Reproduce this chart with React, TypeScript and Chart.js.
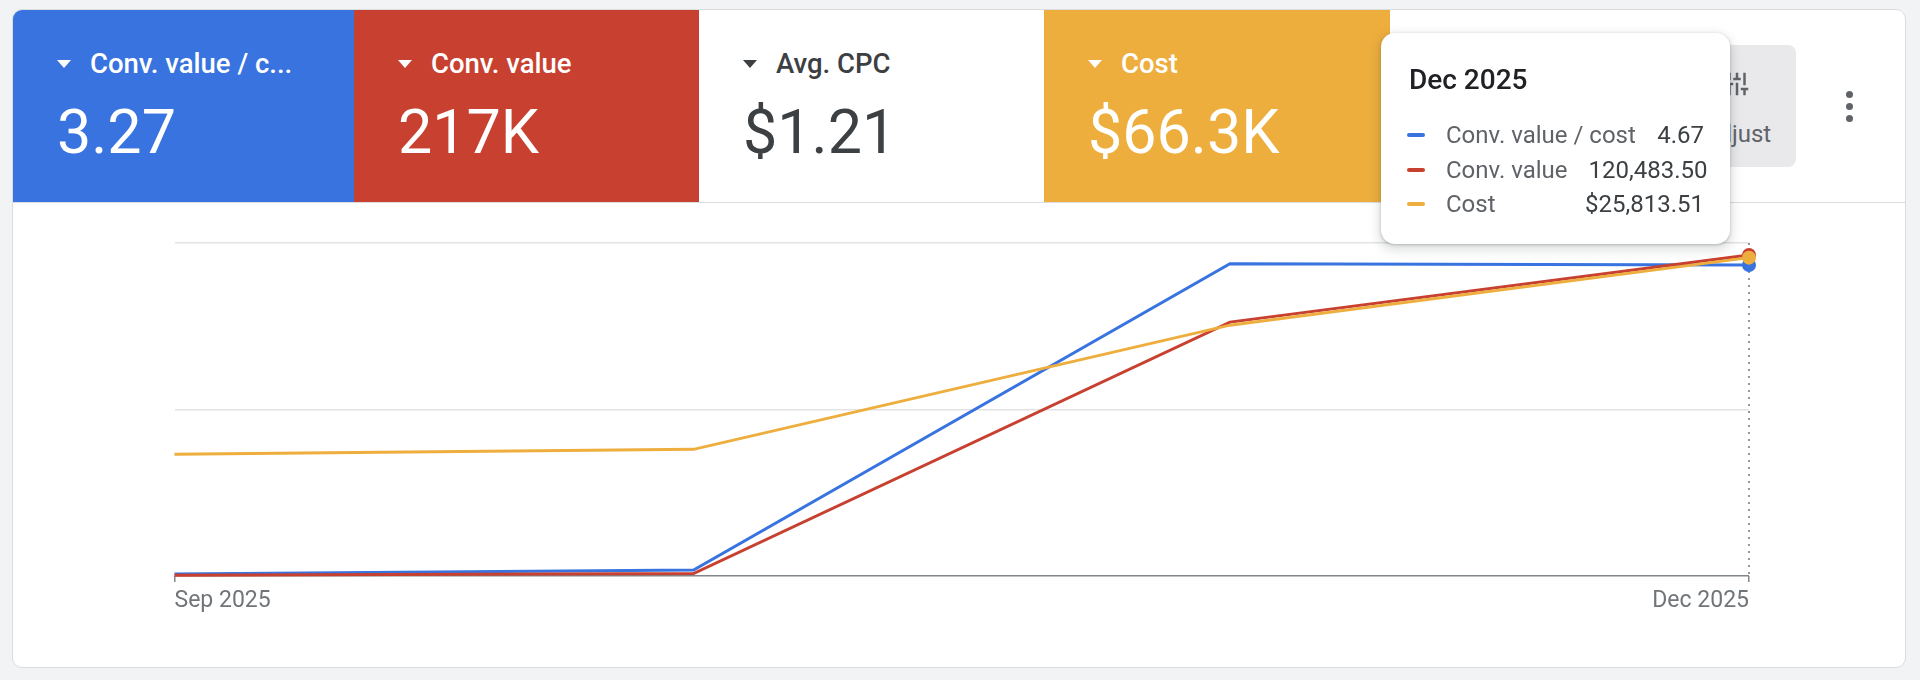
import { useEffect, useRef } from "react";
import { Chart, registerables, ChartConfiguration, Plugin } from "chart.js";

Chart.register(...registerables);

// x axis: month starts, as days since Sep 1 2025
const months = ["Sep 2025", "Oct 2025", "Nov 2025", "Dec 2025"];
const monthDay = [0, 30, 61, 91];
const axisMonths = [0, 3];
const HIGHLIGHT = 3; // hovered month

const seriesNames = ["Conv. value / cost", "Conv. value", "Cost"];
const roas = [0.03, 0.09, 4.69, 4.67];
const convValue = [300, 900, 95300, 120483.5];
const cost = [9870, 10270, 20340, 25813.51];

const tileNames = ["Conv. value / c...", "Conv. value", "Avg. CPC", "Cost"];
const tileTotals = ["3.27", "217K", "$1.21", "$66.3K"];

const BLUE = "#3873df";
const RED = "#c8402f";
const YELLOW = "#edae3d";
const tileColors = [BLUE, RED, "#ffffff", YELLOW];
const tileWidths = [341, 345, 345, 346];

const TIP_W = 349;
const TIP_GAP = 19;

const money = (n: number) =>
  n.toLocaleString("en-US", { minimumFractionDigits: 2, maximumFractionDigits: 2 });
const tipValues = [roas[HIGHLIGHT].toFixed(2), money(convValue[HIGHLIGHT]), "$" + money(cost[HIGHLIGHT])];
const tipColors = [BLUE, RED, YELLOW];

const FONT = "Roboto, 'Noto Sans', sans-serif";

export default function App() {
  const canvasRef = useRef<HTMLCanvasElement | null>(null);
  const chartRef = useRef<Chart<"line"> | null>(null);
  const tipRef = useRef<HTMLDivElement | null>(null);

  useEffect(() => {
    if (!canvasRef.current) return;
    Chart.defaults.font.family = FONT;

    // dotted hover line at the highlighted month
    const hoverLine: Plugin<"line"> = {
      id: "hoverLine",
      beforeDatasetsDraw(chart) {
        const { ctx, chartArea, scales } = chart;
        const x = scales.x.getPixelForValue(monthDay[HIGHLIGHT]);
        ctx.save();
        ctx.beginPath();
        ctx.setLineDash([2, 5]);
        ctx.lineWidth = 1.5;
        ctx.strokeStyle = "#70757a";
        ctx.moveTo(x, chartArea.top);
        ctx.lineTo(x, chartArea.bottom);
        ctx.stroke();
        ctx.restore();
      },
    };

    const pts = (vals: number[]) => vals.map((v, i) => ({ x: monthDay[i], y: v }));
    const dot = (ctx: any) => (ctx.dataIndex === HIGHLIGHT ? 6 : 0);

    const line = (label: string, vals: number[], color: string, axis: string, order: number) => ({
      label,
      data: pts(vals),
      yAxisID: axis,
      order,
      borderColor: color,
      backgroundColor: color,
      borderWidth: 3,
      tension: 0,
      pointRadius: dot,
      pointHoverRadius: dot,
      pointBorderWidth: 2,
      pointBackgroundColor: color,
      pointBorderColor: color,
      clip: false as const,
    });

    const config: ChartConfiguration<"line"> = {
      type: "line",
      data: {
        datasets: [
          line(seriesNames[0], roas, BLUE, "y", 3),
          line(seriesNames[1], convValue, RED, "y1", 2),
          line(seriesNames[2], cost, YELLOW, "y2", 1),
        ] as any,
      },
      options: {
        animation: false,
        responsive: true,
        maintainAspectRatio: false,
        events: [],
        layout: { padding: { left: 161.5, right: 156, top: 39, bottom: 51 } },
        interaction: { mode: "index", intersect: false },
        plugins: {
          legend: { display: false },
          tooltip: {
            enabled: false,
            external: ({ chart, tooltip }) => {
              const el = tipRef.current;
              if (!el) return;
              if (tooltip.opacity === 0) {
                el.style.opacity = "0";
                return;
              }
              el.style.opacity = "1";
              el.style.left = `${tooltip.caretX - TIP_GAP - TIP_W}px`;
              el.style.top = `${chart.chartArea.top - 210}px`;
            },
          },
        },
        scales: {
          x: {
            type: "linear",
            min: monthDay[0],
            max: monthDay[monthDay.length - 1],
            afterBuildTicks: (scale) => {
              scale.ticks = axisMonths.map((i) => ({ value: monthDay[i] }));
            },
            afterFit: (scale) => {
              scale.height = 40;
            },
            grid: { drawOnChartArea: false, drawTicks: true, tickLength: 6, color: "#80868b", lineWidth: 1.5 },
            border: { display: false },
            ticks: {
              align: "inner",
              padding: 5,
              color: "#70757a",
              font: { size: 23 },
              maxRotation: 0,
              autoSkip: false,
              callback: (v) => months[monthDay.indexOf(Number(v))] ?? "",
            },
          },
          y: {
            position: "left",
            min: 0,
            max: 5,
            afterFit: (scale) => {
              scale.width = 0;
            },
            ticks: { display: false, stepSize: 2.5 },
            border: { display: false },
            grid: {
              drawTicks: false,
              color: (c) => (c.tick.value === 0 ? "#80868b" : "#e3e3e3"),
              lineWidth: 1.5,
            },
          },
          y1: { display: false, min: 0, max: 125000 },
          y2: { display: false, min: 0, max: 27000 },
        },
      },
      plugins: [hoverLine],
    };

    if (chartRef.current) chartRef.current.destroy();
    const chart = new Chart(canvasRef.current, config);
    chartRef.current = chart;

    const active = [0, 1, 2].map((d) => ({ datasetIndex: d, index: HIGHLIGHT }));
    const p = chart.getDatasetMeta(0).data[HIGHLIGHT];
    chart.tooltip?.setActiveElements(active, { x: p.x, y: p.y });

    return () => {
      chart.destroy();
      chartRef.current = null;
    };
  }, []);

  return (
    <div style={{ position: "relative", width: 1920, height: 680, fontFamily: FONT, overflow: "hidden" }}>
      <style>{`body{margin:0;background:#f1f3f4}`}</style>
      <div
        style={{
          position: "absolute",
          left: 12,
          top: 9,
          width: 1894,
          height: 659,
          boxSizing: "border-box",
          border: "1px solid #dadce0",
          borderRadius: 10,
          background: "#fff",
          overflow: "hidden",
        }}
      >
        {/* scorecards */}
        <div style={{ display: "flex", height: 192, borderBottom: "1px solid #dadce0" }}>
          {tileNames.map((name, i) => {
            const fg = i === 2 ? "#3c4043" : "#ffffff";
            return (
              <div key={name} style={{ position: "relative", width: tileWidths[i], height: 192, background: tileColors[i] }}>
                <div
                  style={{
                    position: "absolute",
                    left: 44,
                    top: 50,
                    width: 0,
                    height: 0,
                    borderLeft: "7px solid transparent",
                    borderRight: "7px solid transparent",
                    borderTop: `8px solid ${fg}`,
                  }}
                />
                <div
                  style={{
                    position: "absolute",
                    left: 77,
                    top: 40,
                    fontSize: 27.5,
                    lineHeight: 1,
                    fontWeight: 500,
                    color: fg,
                    whiteSpace: "nowrap",
                  }}
                >
                  {name}
                </div>
                <div
                  style={{
                    position: "absolute",
                    left: 44,
                    top: 92,
                    fontSize: 61,
                    lineHeight: 1,
                    fontWeight: 400,
                    color: fg,
                    whiteSpace: "nowrap",
                  }}
                >
                  {tileTotals[i]}
                </div>
              </div>
            );
          })}
        </div>

        {/* Adjust button */}
        <div
          style={{
            position: "absolute",
            left: 1665,
            top: 35,
            width: 118,
            height: 122,
            borderRadius: 8,
            background: "#e9e9eb",
          }}
        >
          <svg
            width="30"
            height="30"
            viewBox="0 0 24 24"
            style={{ position: "absolute", left: 44, top: 24, transform: "rotate(90deg)" }}
          >
            <path
              fill="#5f6368"
              d="M3 17v2h6v-2H3zM3 5v2h10V5H3zm10 16v-2h8v-2h-8v-2h-2v6h2zM7 9v2H3v2h4v2h2V9H7zm14 4v-2H11v2h10zm-6-4h2V7h4V5h-4V3h-2v6z"
            />
          </svg>
          <div
            style={{
              position: "absolute",
              left: 0,
              right: 0,
              top: 77,
              textAlign: "center",
              fontSize: 24,
              lineHeight: 1,
              color: "#5f6368",
            }}
          >
            Adjust
          </div>
        </div>

        {/* more menu */}
        {[84, 96, 108].map((cy) => (
          <div
            key={cy}
            style={{
              position: "absolute",
              left: 1832.5,
              top: cy - 3.5,
              width: 7,
              height: 7,
              borderRadius: "50%",
              background: "#5f6368",
            }}
          />
        ))}

        {/* chart */}
        <div style={{ position: "absolute", left: 0, top: 194, width: 1892, height: 463, zIndex: 2 }}>
          <canvas ref={canvasRef} />
          <div
            ref={tipRef}
            style={{
              position: "absolute",
              left: 0,
              top: 0,
              opacity: 0,
              width: TIP_W,
              height: 211,
              boxSizing: "border-box",
              borderRadius: 14,
              background: "#fff",
              boxShadow: "0 1px 3px rgba(60,64,67,0.3), 0 4px 10px 3px rgba(60,64,67,0.15)",
              zIndex: 5,
            }}
          >
            <div
              style={{
                position: "absolute",
                left: 28,
                top: 33,
                fontSize: 28,
                lineHeight: 1,
                fontWeight: 500,
                color: "#202124",
              }}
            >
              {months[HIGHLIGHT]}
            </div>
            <div style={{ position: "absolute", left: 26, right: 26, top: 85 }}>
              {seriesNames.map((name, i) => (
                <div
                  key={name}
                  style={{
                    display: "grid",
                    gridTemplateColumns: "18px 1fr auto",
                    columnGap: 21,
                    alignItems: "center",
                    height: 34.5,
                    fontSize: 24,
                  }}
                >
                  <span style={{ width: 18, height: 4, borderRadius: 2, background: tipColors[i] }} />
                  <span style={{ color: "#5f6368", whiteSpace: "nowrap" }}>{name}</span>
                  <span style={{ color: "#3c4043", whiteSpace: "nowrap", textAlign: "right" }}>{tipValues[i]}</span>
                </div>
              ))}
            </div>
          </div>
        </div>
      </div>
    </div>
  );
}
